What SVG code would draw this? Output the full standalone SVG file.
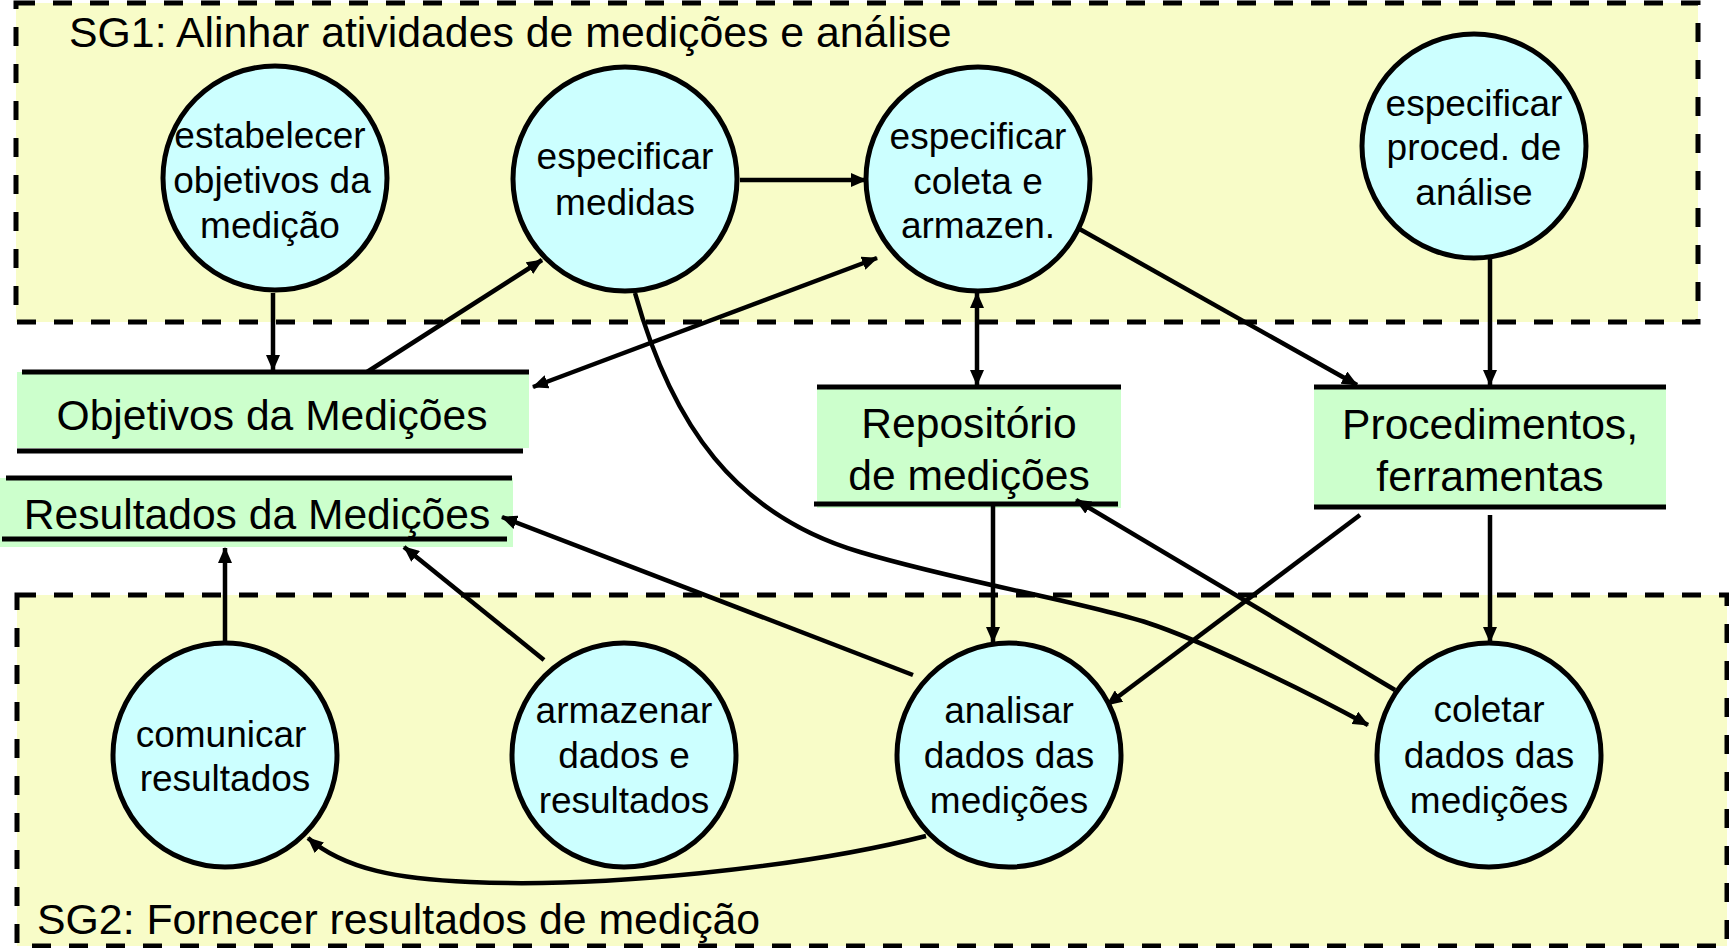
<svg xmlns="http://www.w3.org/2000/svg" width="1729" height="948" viewBox="0 0 1729 948">
<defs>
<style>
.sg{fill:#F8FCC8;stroke:#000;stroke-width:5;stroke-dasharray:19 18}
.title{font-family:"Liberation Sans",Arial,sans-serif;font-size:42.8px;fill:#000}
.node circle{fill:#CCFFFF;stroke:#000;stroke-width:5}
.node text{font-family:"Liberation Sans",Arial,sans-serif;font-size:37px;fill:#000;text-anchor:middle}
.store rect{fill:#CCFFCC}
.store line{stroke:#000;stroke-width:5}
.store text{font-family:"Liberation Sans",Arial,sans-serif;font-size:42.6px;fill:#000;text-anchor:middle}
.conn line,.conn path{fill:none;stroke:#000;stroke-width:4.5}
.end{marker-end:url(#ah)}
.both{marker-start:url(#ah);marker-end:url(#ah)}
</style>
<marker id="ah" viewBox="0 0 16 14" refX="15" refY="7" markerWidth="16" markerHeight="14" markerUnits="userSpaceOnUse" orient="auto-start-reverse">
<path d="M0,0 L16,7 L0,14 z" fill="#000"/>
</marker>
</defs>
<rect width="1729" height="948" fill="#fff"/>

<g id="sg1">
<rect class="sg" x="16" y="3" width="1682" height="319"/>
<text class="title" x="69" y="47">SG1: Alinhar atividades de medições e análise</text>
</g>
<g id="sg2">
<rect class="sg" x="17" y="595" width="1710" height="351"/>
<text class="title" x="37" y="934">SG2: Fornecer resultados de medição</text>
</g>

<g id="store-objetivos" class="store">
<rect x="17" y="372" width="512" height="76"/>
<line x1="22" y1="372" x2="529" y2="372"/>
<line x1="17" y1="451" x2="523" y2="451"/>
<text x="272" y="430">Objetivos da Medições</text>
</g>
<g id="store-resultados" class="store">
<rect x="0" y="478" width="513" height="69"/>
<line x1="6" y1="478" x2="512" y2="478"/>
<line x1="2" y1="539" x2="507" y2="539"/>
<text x="257" y="529">Resultados da Medições</text>
</g>
<g id="store-repositorio" class="store">
<rect x="817" y="387" width="304" height="121"/>
<line x1="817" y1="387" x2="1121" y2="387"/>
<line x1="814" y1="504" x2="1118" y2="504"/>
<text x="969" y="438">Repositório</text>
<text x="969" y="490">de medições</text>
</g>
<g id="store-procedimentos" class="store">
<rect x="1314" y="387" width="352" height="120"/>
<line x1="1314" y1="387" x2="1666" y2="387"/>
<line x1="1314" y1="507" x2="1666" y2="507"/>
<text x="1490" y="439">Procedimentos,</text>
<text x="1490" y="491">ferramentas</text>
</g>

<g id="connectors" class="conn">
<line class="end" x1="273" y1="293" x2="273" y2="370"/>
<line class="end" x1="367" y1="372" x2="542" y2="260"/>
<line class="both" x1="533" y1="387" x2="877" y2="258"/>
<line class="end" x1="740" y1="180" x2="866" y2="180"/>
<line class="both" x1="977" y1="293" x2="977" y2="385"/>
<line class="end" x1="1076" y1="227" x2="1357" y2="385"/>
<line class="end" x1="1490" y1="258" x2="1490" y2="385"/>
<path class="end" d="M635,293 C672,425 735,515 860,552 C960,582 1080,601 1148,623 C1200,640 1300,688 1368,725"/>
<line class="end" x1="993" y1="503" x2="993" y2="642"/>
<line class="end" x1="1395" y1="690" x2="1076" y2="500"/>
<line class="end" x1="1360" y1="515" x2="1107" y2="705"/>
<line class="end" x1="1490" y1="515" x2="1490" y2="642"/>
<line class="end" x1="913" y1="675" x2="502" y2="517"/>
<line class="end" x1="544" y1="660" x2="404" y2="547"/>
<line class="end" x1="225" y1="642" x2="225" y2="548"/>
<path class="end" d="M926,836 C800,868 600,888 470,882 C400,879 345,870 308,838"/>
</g>

<g id="n-estabelecer" class="node">
<circle cx="275" cy="178" r="112"/>
<text x="270" y="148">estabelecer</text>
<text x="272" y="193">objetivos da</text>
<text x="270" y="238">medição</text>
</g>
<g id="n-especificar-medidas" class="node">
<circle cx="625" cy="179" r="112"/>
<text x="625" y="169">especificar</text>
<text x="625" y="215">medidas</text>
</g>
<g id="n-especificar-coleta" class="node">
<circle cx="978" cy="179" r="112"/>
<text x="978" y="149">especificar</text>
<text x="978" y="194">coleta e</text>
<text x="978" y="238">armazen.</text>
</g>
<g id="n-especificar-proced" class="node">
<circle cx="1474" cy="146" r="112"/>
<text x="1474" y="116">especificar</text>
<text x="1474" y="160">proced. de</text>
<text x="1474" y="205">análise</text>
</g>
<g id="n-comunicar" class="node">
<circle cx="225" cy="755" r="112"/>
<text x="221" y="747">comunicar</text>
<text x="225" y="791">resultados</text>
</g>
<g id="n-armazenar" class="node">
<circle cx="624" cy="755" r="112"/>
<text x="624" y="723">armazenar</text>
<text x="624" y="768">dados e</text>
<text x="624" y="813">resultados</text>
</g>
<g id="n-analisar" class="node">
<circle cx="1009" cy="755" r="112"/>
<text x="1009" y="723">analisar</text>
<text x="1009" y="768">dados das</text>
<text x="1009" y="813">medições</text>
</g>
<g id="n-coletar" class="node">
<circle cx="1489" cy="755" r="112"/>
<text x="1489" y="722">coletar</text>
<text x="1489" y="768">dados das</text>
<text x="1489" y="813">medições</text>
</g>
</svg>
